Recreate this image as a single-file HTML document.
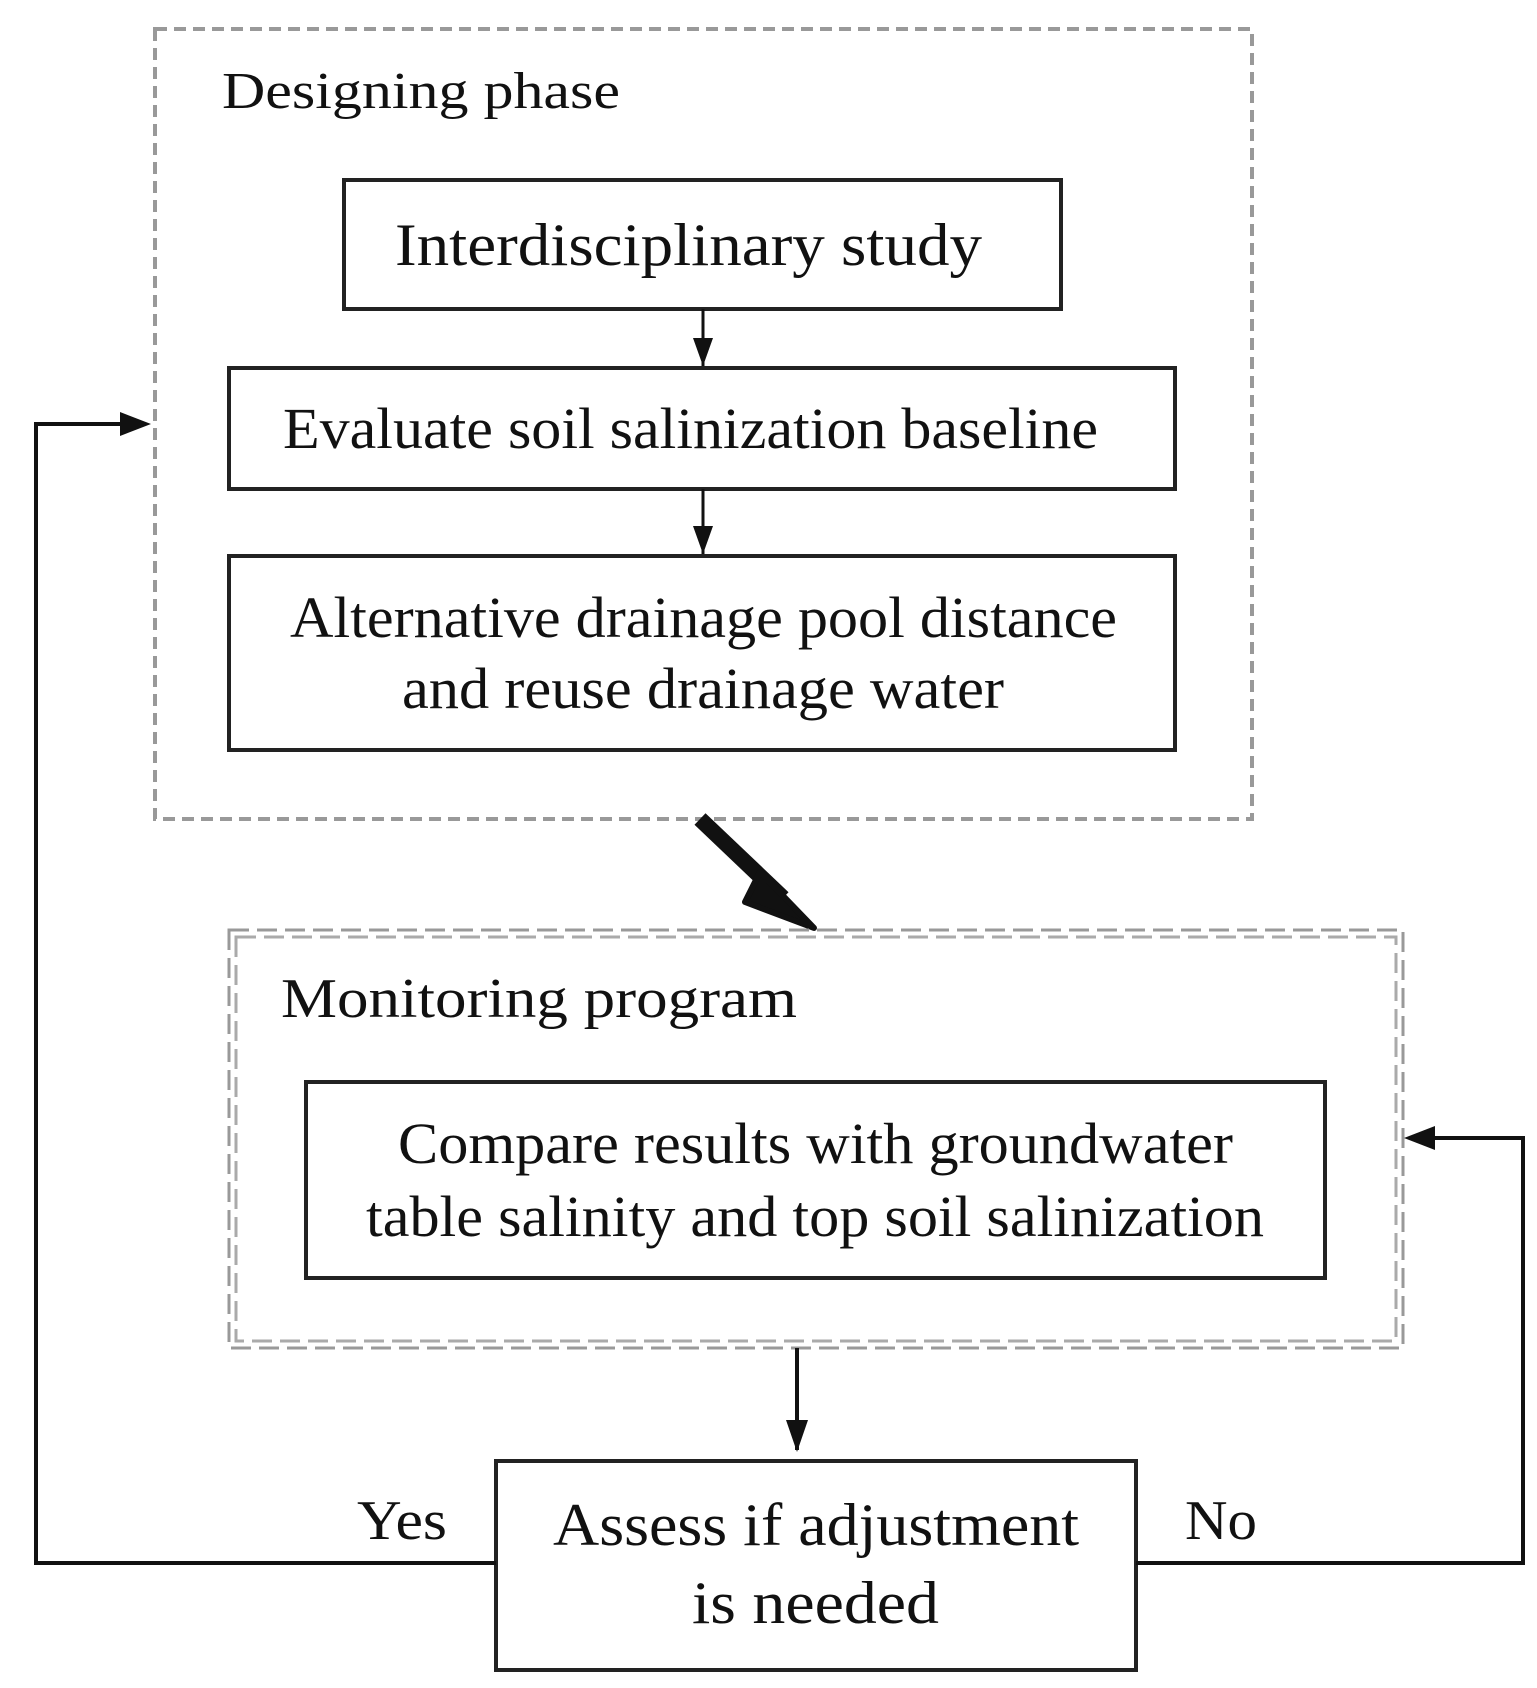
<!DOCTYPE html>
<html><head><meta charset="utf-8"><style>html,body{margin:0;padding:0;background:#fff}svg{display:block}</style></head>
<body>
<svg width="1537" height="1688" viewBox="0 0 1537 1688" xmlns="http://www.w3.org/2000/svg" font-family="'Liberation Serif', serif" fill="#111">
<rect x="155" y="29" width="1097" height="790" fill="none" stroke="#999" stroke-width="4" stroke-dasharray="12,7"/>
<text x="222" y="108" font-size="52" textLength="398" lengthAdjust="spacingAndGlyphs">Designing phase</text>
<rect x="344" y="180" width="717" height="129" fill="none" stroke="#222" stroke-width="4"/>
<text x="395" y="265" font-size="60" textLength="587" lengthAdjust="spacingAndGlyphs">Interdisciplinary study</text>
<line x1="703" y1="309" x2="703" y2="366" stroke="#111" stroke-width="3"/>
<path d="M693,338 L713,338 L703,366 z"/>
<rect x="229" y="368" width="946" height="121" fill="none" stroke="#222" stroke-width="4"/>
<text x="283" y="448" font-size="58" textLength="815" lengthAdjust="spacingAndGlyphs">Evaluate soil salinization baseline</text>
<line x1="703" y1="489" x2="703" y2="554" stroke="#111" stroke-width="3"/>
<path d="M693,526 L713,526 L703,554 z"/>
<rect x="229" y="556" width="946" height="194" fill="none" stroke="#222" stroke-width="4"/>
<text x="290" y="637" font-size="58" textLength="827" lengthAdjust="spacingAndGlyphs">Alternative drainage pool distance</text>
<text x="402" y="708" font-size="58" textLength="602" lengthAdjust="spacingAndGlyphs">and reuse drainage water</text>
<line x1="700" y1="819" x2="783" y2="898" stroke="#111" stroke-width="16"/>
<path d="M760,872 L814,928 L745,902 z" stroke="#111" stroke-width="6" stroke-linejoin="round"/>
<rect x="229" y="930" width="1174" height="418" fill="none" stroke="#999" stroke-width="3" stroke-dasharray="20,8"/>
<rect x="236" y="937" width="1160" height="404" fill="none" stroke="#aaa" stroke-width="3" stroke-dasharray="20,8"/>
<text x="281" y="1017" font-size="56" textLength="516" lengthAdjust="spacingAndGlyphs">Monitoring program</text>
<rect x="306" y="1082" width="1019" height="196" fill="none" stroke="#222" stroke-width="4"/>
<text x="398" y="1163" font-size="58" textLength="835" lengthAdjust="spacingAndGlyphs">Compare results with groundwater</text>
<text x="366" y="1236" font-size="58" textLength="898" lengthAdjust="spacingAndGlyphs">table salinity and top soil salinization</text>
<line x1="797" y1="1348" x2="797" y2="1450" stroke="#111" stroke-width="4"/>
<path d="M786,1420 L808,1420 L797,1452 z"/>
<rect x="496" y="1461" width="640" height="209" fill="none" stroke="#222" stroke-width="4"/>
<text x="553" y="1545" font-size="60" textLength="526" lengthAdjust="spacingAndGlyphs">Assess if adjustment</text>
<text x="692" y="1623" font-size="60" textLength="247" lengthAdjust="spacingAndGlyphs">is needed</text>
<text x="357" y="1539" font-size="56" textLength="90" lengthAdjust="spacingAndGlyphs">Yes</text>
<text x="1185" y="1539" font-size="56" textLength="72" lengthAdjust="spacingAndGlyphs">No</text>
<polyline points="496,1563 36,1563 36,424 125,424" fill="none" stroke="#111" stroke-width="4"/>
<path d="M120,412 L151,424 L120,436 z"/>
<polyline points="1136,1563 1523,1563 1523,1138 1430,1138" fill="none" stroke="#111" stroke-width="4"/>
<path d="M1435,1126 L1404,1138 L1435,1150 z"/>
</svg>
</body></html>
